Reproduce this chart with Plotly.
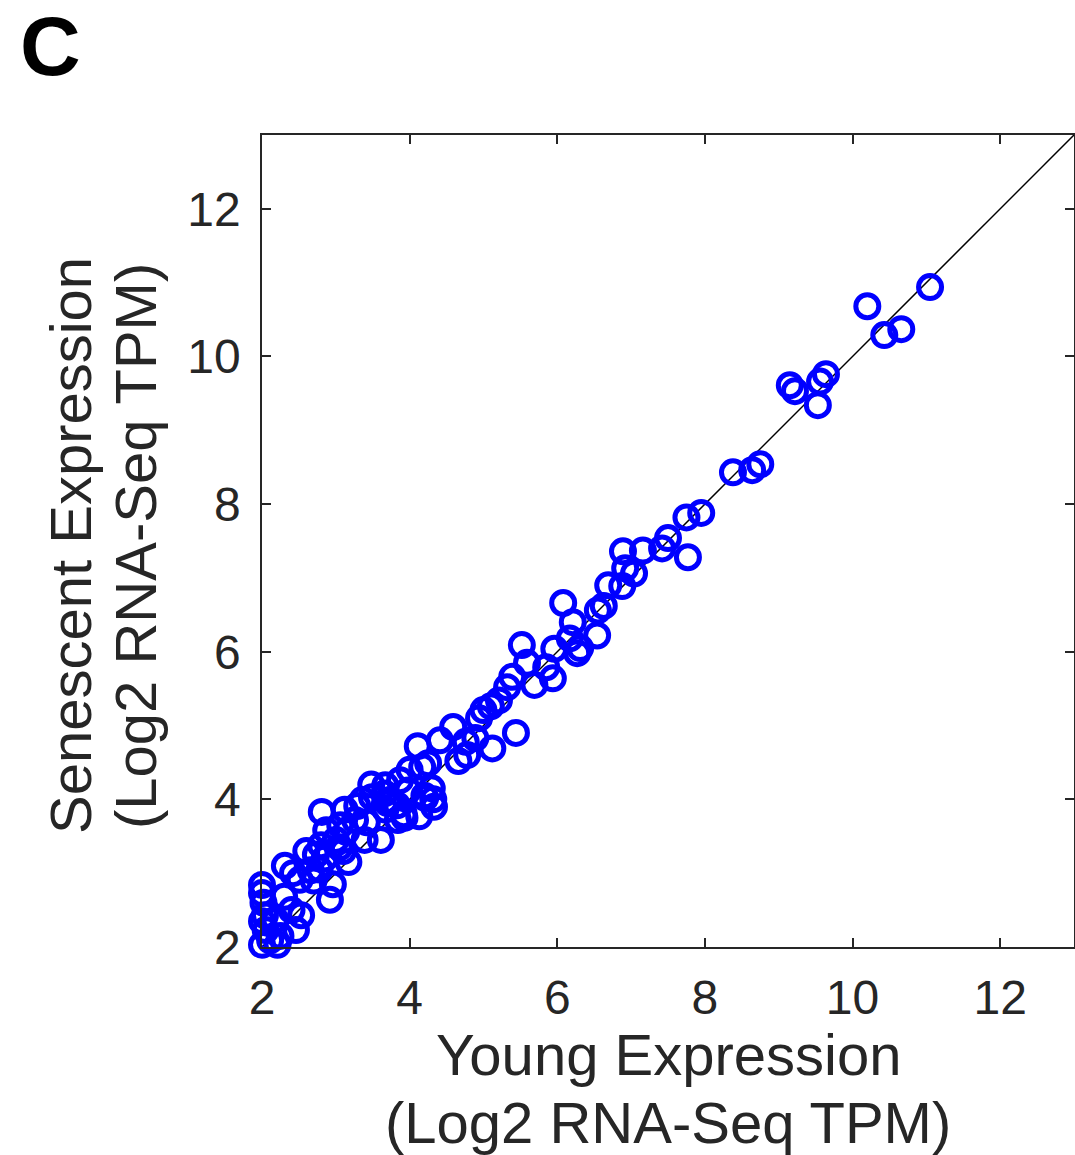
import plotly.graph_objects as go

young = [11.05, 10.2, 10.43, 10.66, 9.15, 9.22, 9.53, 9.56, 9.64, 8.38, 8.64, 8.75,
         7.95, 7.75, 7.77, 7.5, 7.42, 7.16, 6.89, 6.92, 7.04, 6.88, 6.69, 6.63, 6.55, 6.54,
         6.08, 6.21, 6.17, 6.31, 6.27, 5.52, 5.59, 5.96, 5.85, 5.94, 5.69, 5.39, 5.32, 5.44,
         5.21, 5.1, 5.0, 4.94, 5.12, 4.89, 4.76, 4.59, 4.78, 4.66, 4.41, 4.11, 4.25, 4.17,
         4.0, 4.32, 4.33, 4.13, 3.98, 3.84, 3.83, 3.67, 3.48, 3.49, 3.61, 3.42, 3.29, 3.36,
         3.12, 3.14, 3.0, 3.17, 2.81, 2.8, 2.73, 2.66, 2.96, 2.92, 2.51, 2.31, 2.42, 2.3,
         2.0, 2.0, 2.04, 2.18, 2.46, 2.53, 2.05, 2.0, 2.21, 2.11, 2.4, 2.6, 2.87, 3.06,
         3.26, 3.67, 3.73, 3.87, 3.39, 3.66, 4.3, 4.2, 3.92, 3.7, 3.93, 4.21, 2.25, 2.7,
         2.78, 2.85, 3.05, 3.1, 2.0, 2.02]
senescent = [10.94, 10.68, 10.29, 10.37, 9.61, 9.53, 9.34, 9.66, 9.76, 8.43, 8.46, 8.54,
             7.88, 7.82, 7.28, 7.54, 7.4, 7.37, 7.36, 7.13, 7.06, 6.89, 6.9, 6.62, 6.56, 6.22,
             6.66, 6.4, 6.18, 6.05, 5.98, 6.09, 5.85, 6.04, 5.79, 5.64, 5.55, 5.66, 5.52, 4.9,
             5.34, 5.26, 5.21, 5.1, 4.69, 4.83, 4.78, 4.98, 4.6, 4.52, 4.8, 4.72, 4.49, 4.44,
             4.4, 4.0, 3.9, 3.77, 4.12, 3.72, 3.92, 4.19, 4.2, 4.03, 3.45, 3.69, 3.91, 3.99,
             3.86, 3.56, 3.45, 3.15, 3.83, 3.38, 3.25, 3.04, 2.85, 2.64, 2.91, 3.1, 3.0, 2.68,
             2.84, 2.73, 2.43, 2.37, 2.23, 2.43, 2.23, 2.03, 2.03, 2.09, 2.5, 3.3, 3.58, 3.65,
             3.72, 3.86, 3.99, 4.26, 3.45, 4.08, 4.15, 4.05, 3.8, 3.95, 3.75, 4.02, 2.15, 2.9,
             3.05, 3.2, 3.35, 3.3, 2.35, 2.6]

axis_min, axis_max = 2, 13
tick_vals = [2, 4, 6, 8, 10, 12]
x_title_lines = ["Young Expression", "(Log2 RNA-Seq TPM)"]
y_title_lines = ["Senescent Expression", "(Log2 RNA-Seq TPM)"]
panel_label = "C"

FONT = "Liberation Sans, Arial, Helvetica"
TXT = "#262626"
L, T, W, H = 262, 135, 812, 812

fig = go.Figure()
fig.add_trace(go.Scatter(x=[axis_min, axis_max], y=[axis_min, axis_max], mode="lines",
                         line=dict(color="black", width=1.5), hoverinfo="skip",
                         showlegend=False))
fig.add_trace(go.Scatter(x=young, y=senescent, mode="markers", cliponaxis=False,
                         marker=dict(symbol="circle-open", size=23, color="#0000ff",
                                     line=dict(width=5, color="#0000ff")),
                         showlegend=False))

axis_common = dict(range=[axis_min, axis_max], tickvals=tick_vals, ticks="inside",
                   ticklen=9, tickwidth=1.5, tickcolor=TXT, showline=True,
                   linecolor=TXT, linewidth=1.5, mirror="ticks", showgrid=False,
                   zeroline=False, automargin=False,
                   tickfont=dict(size=48, color=TXT, family=FONT))
fig.update_xaxes(**axis_common, ticklabelstandoff=8)
fig.update_yaxes(**axis_common, ticklabelstandoff=10)


def px_x(p):
    return (p - L) / W


def px_y(p):
    return 1 - (p - T) / H


for txt, yc in zip(x_title_lines, [1054, 1122]):
    fig.add_annotation(text=txt, xref="paper", yref="paper", x=0.5, y=px_y(yc),
                       xanchor="center", yanchor="middle", showarrow=False,
                       font=dict(size=58, color=TXT, family=FONT))
for txt, xc in zip(y_title_lines, [70, 135]):
    fig.add_annotation(text=txt, xref="paper", yref="paper", x=px_x(xc), y=px_y(546),
                       xanchor="center", yanchor="middle", textangle=-90, showarrow=False,
                       font=dict(size=58, color=TXT, family=FONT))

fig.add_annotation(text="<b>" + panel_label + "</b>", xref="paper", yref="paper",
                   x=px_x(18), y=px_y(0), xanchor="left", yanchor="top", height=88,
                   valign="middle", showarrow=False,
                   font=dict(size=84, color="black", family=FONT))

fig.update_layout(width=1075, height=1155, plot_bgcolor="white", paper_bgcolor="white",
                  margin=dict(l=L, r=1075 - L - W, t=T, b=1155 - T - H),
                  font=dict(family=FONT))
fig.write_html("out.html", config={"displayModeBar": False},
               post_script="document.body.style.margin='0';")
